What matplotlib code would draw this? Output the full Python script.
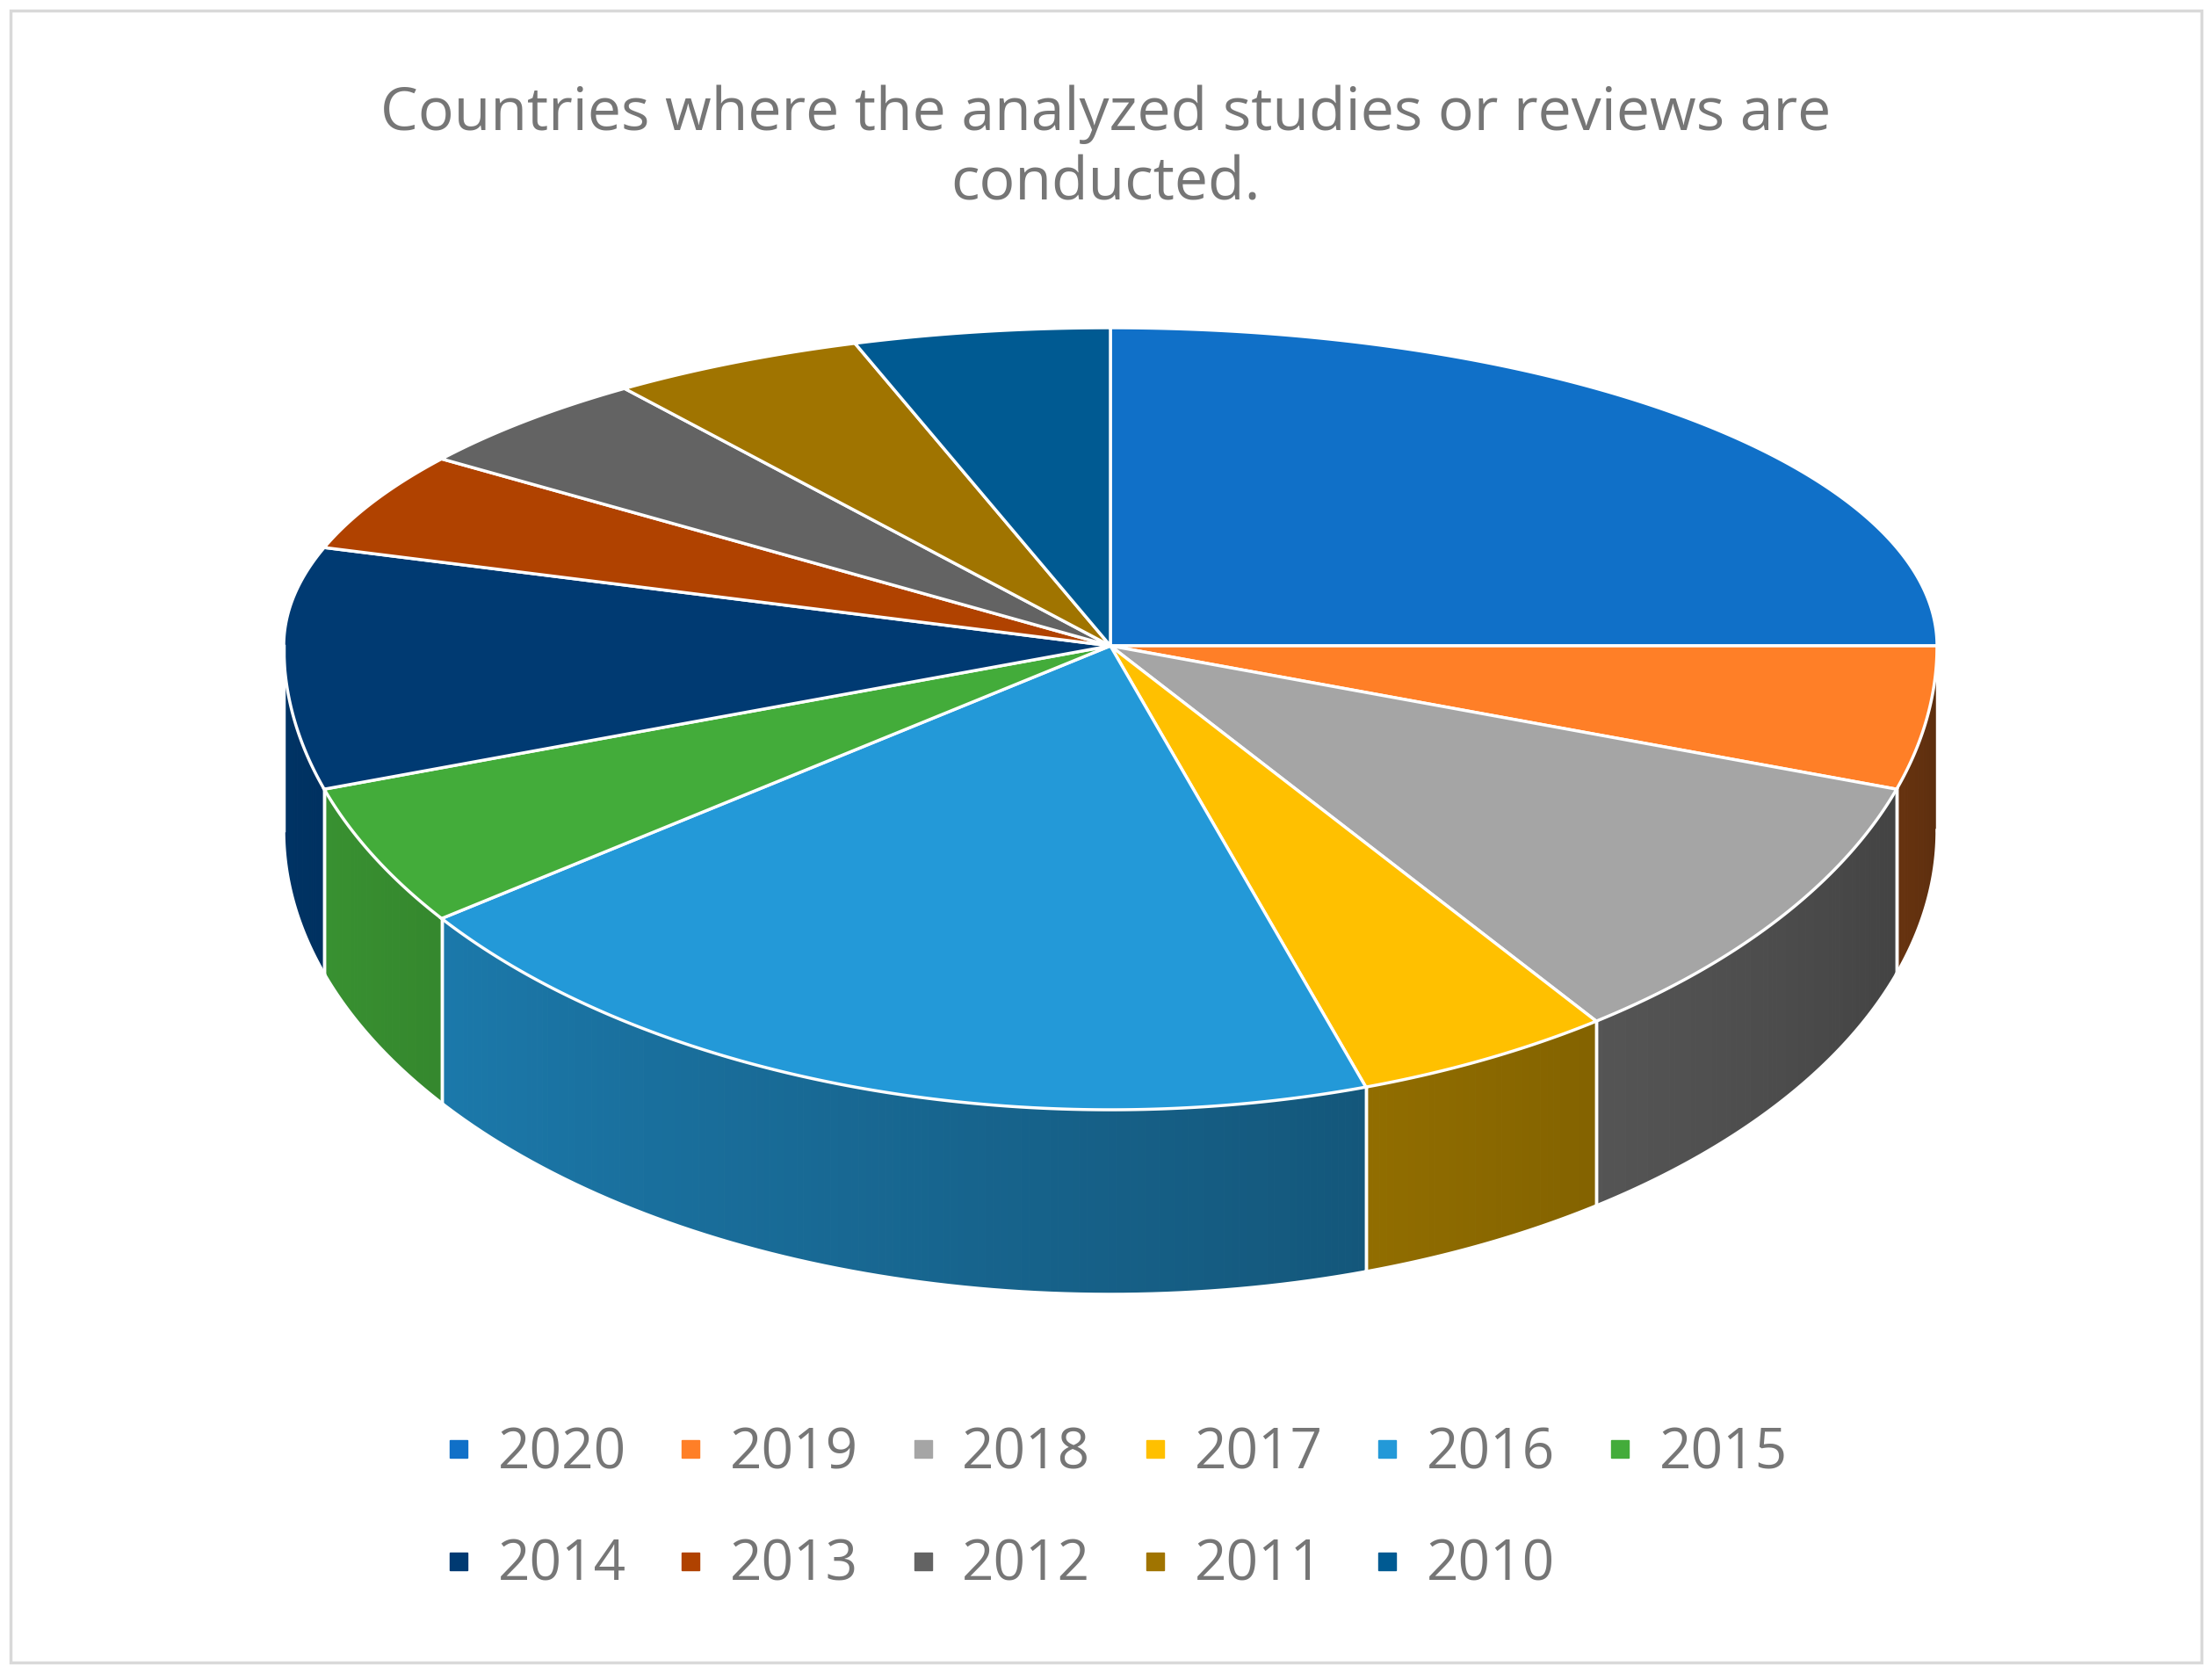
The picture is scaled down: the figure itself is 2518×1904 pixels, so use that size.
import numpy as np
import matplotlib
matplotlib.use('Agg')
import matplotlib.pyplot as plt
from matplotlib.patches import Polygon, Rectangle
from matplotlib.lines import Line2D
import matplotlib.colors as mcolors

years = ['2020', '2019', '2018', '2017', '2016', '2015', '2014', '2013', '2012', '2011', '2010']
shares = [25, 5, 10, 5, 20, 5, 10, 5, 5, 5, 5]
colors = ['#1070C8', '#FF7F27', '#A5A5A5', '#FFC000', '#2399D8', '#43AC3A',
          '#003A72', '#B04200', '#636363', '#A07400', '#005A92']
title = 'Countries where the analyzed studies or reviews are\nconducted.'

W, H = 2518, 1904
cx, cy = 1264, 735
rx, ry_top, ry_bot = 941, 362, 528
depth = 210

fig = plt.figure(figsize=(W / 100, H / 100), dpi=100)
ax = fig.add_axes([0, 0, 1, 1])
ax.set_xlim(0, W)
ax.set_ylim(H, 0)
ax.axis('off')

ax.add_patch(Rectangle((12, 12), W - 24, H - 24, fill=False, edgecolor='#D9D9D9', lw=2.5))
ax.text(W / 2, 170, title, ha='center', va='center', fontsize=49, color='#767676',
        family='Open Sans', linespacing=1.25)


def pt(a):
    # a in degrees, math convention; screen y grows downward
    s = np.sin(np.radians(a))
    ry = ry_top if s > 0 else ry_bot
    return cx + rx * np.cos(np.radians(a)), cy - ry * s


total = sum(shares)
bounds = 90 - np.cumsum([0] + shares) / total * 360

# side walls (front half only), shaded strips
for i in range(len(shares)):
    a1, a2 = bounds[i], bounds[i + 1]
    for lo, hi in [(max(a2, -180), min(a1, 0)), (max(a2 + 360, -180), min(a1 + 360, 0))]:
        if hi <= lo:
            continue
        angs = np.linspace(hi, lo, max(int((hi - lo) * 2), 2))
        base = np.array(mcolors.to_rgb(colors[i]))
        for k in range(len(angs) - 1):
            p1, p2 = pt(angs[k]), pt(angs[k + 1])
            # darker toward the right-hand side
            f = 0.9 - 0.55 * ((angs[k] + 180) / 180)
            c = np.clip(base * f, 0, 1)
            ax.add_patch(Polygon([p1, p2, (p2[0], p2[1] + depth), (p1[0], p1[1] + depth)],
                                 closed=True, facecolor=c, edgecolor=c, lw=0.8))
        for p in (pt(hi), pt(lo)):
            ax.plot([p[0], p[0]], [p[1], p[1] + depth], color='white', lw=2.5)
        bot = [(pt(a)[0], pt(a)[1] + depth) for a in angs]
        ax.plot([b[0] for b in bot], [b[1] for b in bot], color='white', lw=2.5)

# top faces
for i in range(len(shares)):
    angs = np.linspace(bounds[i], bounds[i + 1], 200)
    verts = [(cx, cy)] + [pt(a) for a in angs]
    ax.add_patch(Polygon(verts, closed=True, facecolor=colors[i], edgecolor='white', lw=2.5))

# legend filled column by column, so reorder for row-major reading
order = [0, 6, 1, 7, 2, 8, 3, 9, 4, 10, 5]
handles = [Line2D([], [], marker='s', ls='', color=colors[j], markersize=14) for j in order]
labels = [years[j] for j in order]
ax.legend(handles, labels, loc='center', bbox_to_anchor=(0.5, 1 - 1718 / H), ncol=6,
          frameon=False, prop={'family': 'Open Sans', 'size': 46}, labelcolor='#767676',
          handletextpad=0.1, columnspacing=0.55, labelspacing=1.0, handlelength=1.2)

fig.savefig('out.png', dpi=100, facecolor='white')
